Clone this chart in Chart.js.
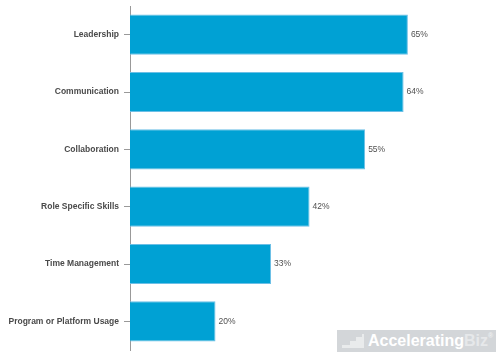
<!DOCTYPE html>
<html>
<head>
<meta charset="utf-8">
<script src="https://cdn.jsdelivr.net/npm/chart.js@4"></script>
<style>
  html, body { margin: 0; padding: 0; background: #fff; overflow: hidden; }
  #wrap { position: relative; width: 500px; height: 357px; }
  #wrap canvas { display: block; }
  #wm {
    position: absolute; left: 337px; top: 330px; width: 159px; height: 22px;
    background: #d3d6d9; font-family: "Liberation Sans", Arial, sans-serif;
    font-weight: bold; font-size: 16px; line-height: 22px; color: #fff;
    white-space: nowrap;
  }
  #wm svg { position: absolute; left: 5px; top: 4px; }
  #wm .txt { position: absolute; left: 31px; top: 0; }
  #wm span.biz { color: #e6e8ea; }
  #wm sup { font-size: 7px; vertical-align: top; line-height: 12px; color: #eef0f1; }
</style>
</head>
<body>
<div id="wrap">
  <canvas id="c"></canvas>
  <div id="wm"><svg width="22" height="14" viewBox="0 0 22 14"><polygon points="0,14 0,11 8,11 8,7 14,7 14,3 20,3 20,0 22,0 22,14" fill="#e9ebec"/></svg><span class="txt">Accelerating<span class="biz">Biz</span><sup>®</sup></span></div>
</div>
<script>
const categories = ["Leadership", "Communication", "Collaboration", "Role Specific Skills", "Time Management", "Program or Platform Usage"];
const values = [65, 64, 55, 42, 33, 20];

const valueLabels = {
  id: 'valueLabels',
  afterDatasetsDraw(chart) {
    const ctx = chart.ctx;
    const meta = chart.getDatasetMeta(0);
    ctx.save();
    ctx.font = '8.5px "Liberation Sans", Arial, sans-serif';
    ctx.fillStyle = '#505050';
    ctx.textAlign = 'left';
    ctx.textBaseline = 'middle';
    meta.data.forEach((el, i) => {
      ctx.fillText(values[i] + '%', el.x + 3, el.y);
    });
    ctx.restore();
  }
};

new Chart(document.getElementById('c'), {
  type: 'bar',
  data: {
    labels: categories,
    datasets: [{
      data: values,
      backgroundColor: '#00a1d4',
      borderColor: '#6cbfe6',
      borderWidth: 1,
      barPercentage: 0.7,
      categoryPercentage: 1.0
    }]
  },
  options: {
    indexAxis: 'y',
    responsive: true,
    maintainAspectRatio: false,
    animation: false,
    layout: { padding: { top: 6, bottom: 7, left: 0, right: 28 } },
    plugins: { legend: { display: false }, tooltip: { enabled: false } },
    scales: {
      x: { display: false, min: 0, max: 80 },
      y: {
        afterFit(scale) { scale.width = 130; scale.paddingTop = 0; scale.paddingBottom = 0; },
        grid: { display: true, drawOnChartArea: false, drawTicks: true, tickLength: 6, tickColor: '#999', offset: false },
        border: { display: true, color: '#999', width: 1 },
        ticks: {
          padding: 5,
          color: '#4a4a4a',
          font: { family: '"Liberation Sans", Arial, sans-serif', size: 8.5, weight: 'bold' }
        }
      }
    }
  },
  plugins: [valueLabels]
});
</script>
</body>
</html>
